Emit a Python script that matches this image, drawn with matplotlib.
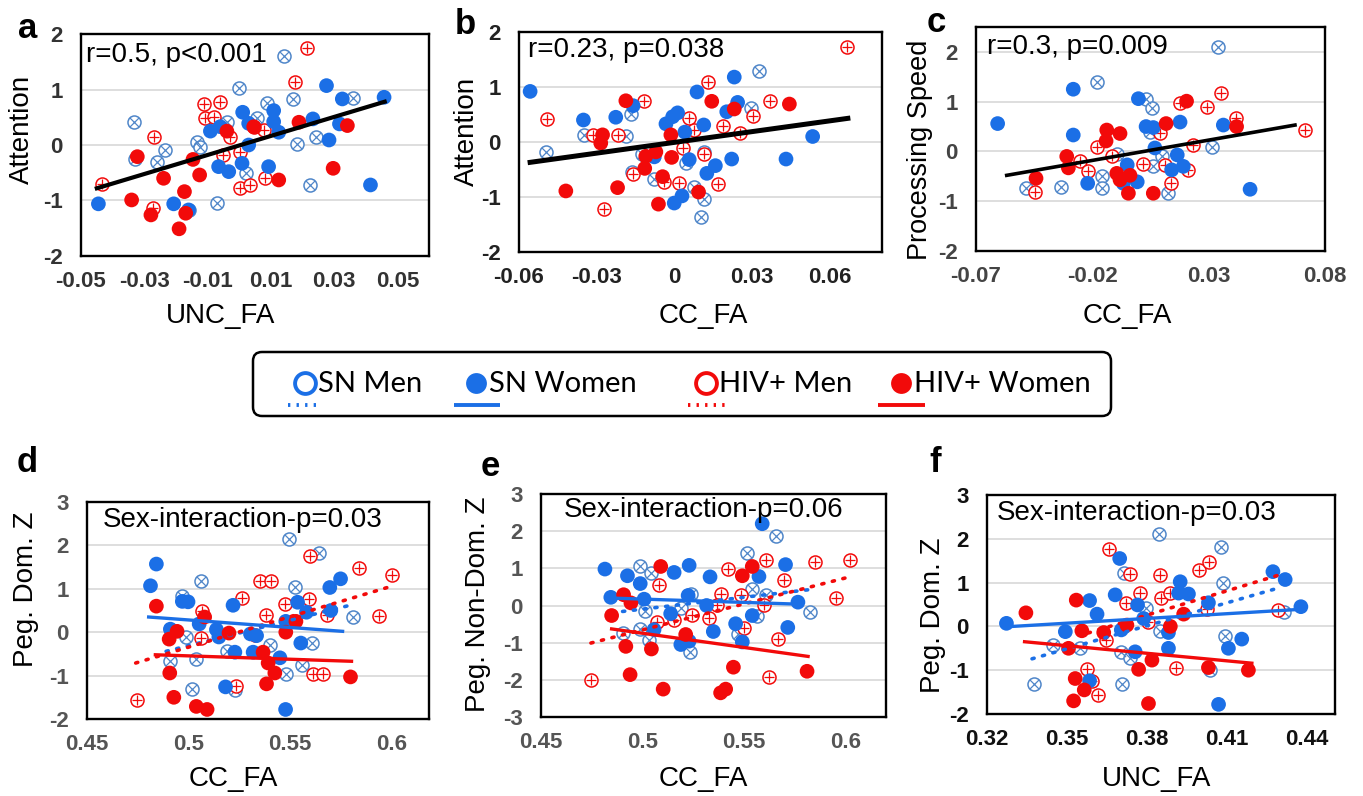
import matplotlib
matplotlib.use("Agg")
import matplotlib.pyplot as plt
from matplotlib.patches import FancyBboxPatch

# ---------------- data ----------------
# Panel a: UNC_FA vs Attention
a_sn_men = [(-0.0334,0.41),(0.0141,1.60),(0.0000,1.02),(0.0088,0.75),(0.0170,0.83),(0.0360,0.85),(-0.0039,0.42),
            (0.0056,0.48),(-0.0134,0.06),(-0.0123,-0.03),(-0.0234,-0.09),(-0.0260,-0.30),(0.0183,0.02),(0.0244,0.14),
            (0.0225,-0.72),(-0.0070,-1.05),(0.0020,-0.51),(-0.0160,-1.17),(-0.0330,-0.25)]
a_hiv_men = [(0.0215,1.75),(0.0176,1.13),(-0.0112,0.74),(-0.0060,0.78),(-0.0107,0.48),(-0.0080,0.50),(-0.0269,0.15),
             (-0.0028,0.15),(-0.0051,-0.18),(0.0004,-0.12),(-0.0435,-0.71),(-0.0271,-1.14),(0.0004,-0.78),(0.0035,-0.72),
             (0.0083,-0.60),(0.0078,0.27),(0.0046,0.33)]
a_sn_women = [(-0.0445,-1.06),(-0.0207,-1.06),(-0.0160,-1.17),(-0.0091,0.25),(-0.0060,0.33),(-0.0065,-0.39),(-0.0033,-0.48),
              (0.0009,-0.33),(0.0011,0.59),(0.0030,0.00),(0.0030,0.39),(0.0093,-0.39),(0.0109,0.62),(0.0109,0.42),
              (0.0125,0.23),(0.0233,0.47),(0.0276,1.07),(0.0284,0.09),(0.0326,0.83),(0.0317,0.38),(0.0415,-0.72),(0.0458,0.86)]
a_hiv_women = [(-0.0322,-0.21),(-0.0340,-0.99),(-0.0279,-1.26),(-0.0239,-0.60),(-0.0190,-1.51),(-0.0173,-0.84),(-0.0169,-1.23),
               (-0.0146,-0.26),(-0.0125,-0.54),(-0.0039,0.25),(0.0046,0.33),(0.0189,0.41),(0.0125,-0.63),(0.0297,-0.42),(0.0342,0.35)]
a_fit = ([-0.045, 0.046], [-0.78, 0.78])
a_xticks = [-0.05, -0.03, -0.01, 0.01, 0.03, 0.05]
a_xticklabels = ["-0.05", "-0.03", "-0.01", "0.01", "0.03", "0.05"]

# Panel b: CC_FA vs Attention
b_sn_men = [(-0.0497,-0.18),(-0.0348,0.13),(-0.0187,0.11),(-0.0168,0.51),(-0.0164,-0.54),(-0.0077,-0.67),(-0.0125,-0.22),
            (0.0045,-0.39),(0.0116,-0.18),(0.0114,-1.04),(0.0103,-1.37),(0.0077,-0.81),(0.0329,1.30),(0.0297,0.61)]
b_hiv_men = [(0.0668,1.73),(0.0129,1.10),(-0.0116,0.74),(-0.0490,0.42),(-0.0314,0.13),(-0.0219,0.13),(0.0058,0.43),
             (0.0077,0.22),(0.0190,0.29),(0.0306,0.47),(0.0372,0.75),(0.0255,0.17),(0.0032,-0.10),(0.0116,-0.22),
             (-0.0161,-0.58),(0.0019,-0.74),(-0.0041,-0.72),(0.0168,-0.77),(-0.0271,-1.21)]
b_sn_women = [(-0.0557,0.92),(-0.0351,0.40),(-0.0226,0.45),(-0.0159,0.66),(-0.0032,0.33),(-0.0006,0.46),(0.0013,0.53),
              (0.0041,0.18),(0.0058,-0.32),(0.0088,0.91),(0.0114,0.31),(0.0126,-0.57),(0.0159,-0.43),(0.0203,0.55),
              (0.0232,1.18),(0.0245,0.72),(0.0222,-0.31),(0.0432,-0.31),(0.0535,0.10),(0.0000,-1.11),(0.0030,-0.98),(-0.0077,-0.27)]
b_hiv_women = [(-0.0419,-0.89),(-0.0219,-0.83),(-0.0187,0.75),(-0.0277,0.13),(-0.0284,-0.02),(-0.0110,-0.26),(-0.0114,-0.48),
               (-0.0071,-0.18),(-0.0013,0.13),(-0.0010,-0.28),(-0.0045,-0.63),(-0.0061,-1.13),(0.0094,-0.91),(0.0145,0.74),
               (0.0232,0.60),(0.0445,0.69)]
b_fit = ([-0.0557, 0.0671], [-0.37, 0.43])
b_xticks = [-0.06, -0.03, 0.0, 0.03, 0.06]
b_xticklabels = ["-0.06", "-0.03", "0", "0.03", "0.06"]

# Panel c: CC_FA vs Processing Speed
c_sn_men = [(0.0342,2.10),(-0.0179,1.40),(0.0031,1.06),(0.0058,0.87),(0.0048,0.39),(0.0313,0.09),(-0.0160,-0.50),
            (-0.0157,-0.74),(-0.0335,-0.71),(-0.0485,-0.73),(0.0127,-0.83),(0.0062,-0.30),(0.0098,-0.10),(-0.0095,-0.06)]
c_hiv_men = [(-0.0446,-0.81),(-0.0253,-0.20),(-0.0217,-0.40),(-0.0181,0.09),(-0.0117,-0.10),(0.0016,-0.25),(0.0112,-0.27),
             (0.0137,-0.64),(0.0177,0.97),(0.0234,0.13),(0.0213,-0.37),(0.0291,0.89),(0.0353,1.18),(0.0417,0.67),
             (0.0714,0.43),(0.0091,0.38)]
c_sn_women = [(-0.0607,0.56),(-0.0282,1.25),(-0.0282,0.33),(-0.0220,-0.64),(-0.0002,1.06),(0.0031,0.50),(0.0062,0.48),
              (0.0069,0.07),(0.0177,0.59),(0.0165,-0.07),(0.0141,-0.37),(0.0191,-0.30),(-0.0050,-0.27),(-0.0007,-0.61),
              (-0.0067,-0.64),(0.0363,0.53),(0.0478,-0.76)]
c_hiv_women = [(-0.0442,-0.54),(-0.0310,-0.10),(-0.0303,-0.33),(-0.0138,0.43),(-0.0141,0.21),(-0.0081,0.36),(-0.0095,-0.44),
               (-0.0081,-0.57),(-0.0038,-0.48),(-0.0045,-0.84),(0.0062,-0.84),(0.0117,0.56),(0.0205,1.01),(0.0420,0.50)]
c_fit = ([-0.0568, 0.0671], [-0.48, 0.53])
c_xticks = [-0.07, -0.02, 0.03, 0.08]
c_xticklabels = ["-0.07", "-0.02", "0.03", "0.08"]

# Panel d: CC_FA vs Peg. Dom. Z
d_sn_men = [(0.5064,1.17),(0.4970,0.83),(0.4990,-0.10),(0.5039,-0.62),(0.4908,-0.67),(0.5020,-1.31),(0.5229,-1.34),
            (0.5188,-0.44),(0.5401,-0.29),(0.5497,2.15),(0.5645,1.82),(0.5525,1.03),(0.5607,-0.26),(0.5558,-0.75),
            (0.5480,-0.96),(0.5812,0.35)]
d_hiv_men = [(0.4747,-1.57),(0.5069,0.50),(0.5064,-0.13),(0.5266,0.79),(0.5352,1.19),(0.5409,1.17),(0.5380,0.40),
             (0.5475,0.65),(0.5599,1.76),(0.5595,0.76),(0.5684,0.39),(0.5612,-0.96),(0.5661,-0.96),(0.5842,1.48),
             (0.6005,1.31),(0.5941,0.37),(0.5237,-1.25),(0.5327,-0.06)]
d_sn_women = [(0.4842,1.57),(0.4813,1.07),(0.4970,0.71),(0.4998,0.70),(0.5220,0.62),(0.4911,0.07),(0.5053,0.19),
              (0.5138,0.06),(0.5150,-0.11),(0.5229,-0.46),(0.5306,-0.04),(0.5336,-0.08),(0.5319,-0.46),(0.5451,-0.59),
              (0.5479,-1.78),(0.5183,-1.26),(0.5538,0.69),(0.5554,-0.25),(0.5582,0.46),(0.5697,1.03),(0.5750,1.23),
              (0.5702,0.50),(0.5480,0.25)]
d_hiv_women = [(0.4842,0.60),(0.4905,-0.16),(0.4944,0.02),(0.4908,-0.94),(0.4928,-1.50),(0.5039,-1.71),(0.5092,-1.78),
               (0.5080,0.35),(0.5200,-0.02),(0.5368,-0.46),(0.5393,-0.71),(0.5426,-0.94),(0.5385,-1.19),(0.5480,0.00),
               (0.5530,0.25),(0.5799,-1.03)]
d_fit_sn_men = ([0.489, 0.5796], [-0.44, 0.62])
d_fit_sn_women = ([0.4804, 0.576], [0.35, 0.02])
d_fit_hiv_men = ([0.474, 0.6002], [-0.71, 1.06])
d_fit_hiv_women = ([0.4837, 0.5804], [-0.52, -0.67])
de_xticks = [0.45, 0.5, 0.55, 0.6]
de_xticklabels = ["0.45", "0.5", "0.55", "0.6"]

# Panel e: CC_FA vs Peg. Non-Dom. Z
e_sn_men = [(0.4987,1.07),(0.5041,0.87),(0.5011,-0.16),(0.4989,-0.63),(0.4902,-0.74),(0.5033,-0.92),(0.5234,-1.26),
            (0.5238,0.32),(0.5189,-0.07),(0.5513,1.41),(0.5656,1.86),(0.5541,0.45),(0.5611,0.29),(0.5566,-0.29),
            (0.5470,-0.78),(0.5825,-0.17)]
e_hiv_men = [(0.4746,-2.00),(0.5082,0.54),(0.5074,-0.45),(0.5156,-0.38),(0.5246,-0.25),(0.5328,-0.34),(0.5385,0.32),
             (0.5421,0.98),(0.5484,0.29),(0.5500,-0.61),(0.5607,1.23),(0.5598,0.02),(0.5697,0.68),(0.5669,-0.90),
             (0.5623,-1.92),(0.5852,1.16),(0.5956,0.20),(0.6025,1.23),(0.5369,0.02)]
e_sn_women = [(0.4815,0.98),(0.4926,0.80),(0.4989,0.59),(0.4844,0.22),(0.5008,0.17),(0.5156,0.89),(0.5230,1.08),
              (0.5139,-0.22),(0.5225,0.27),(0.5333,0.77),(0.5316,0.00),(0.5349,-0.70),(0.5459,-0.49),(0.5492,-0.98),
              (0.5541,-0.27),(0.5574,0.78),(0.5590,2.20),(0.5705,1.10),(0.5716,-0.59),(0.5766,0.09),(0.5189,-1.05),
              (0.5230,-0.96),(0.5057,-0.65)]
e_hiv_women = [(0.4907,0.29),(0.4943,0.07),(0.4848,-0.27),(0.4918,-1.10),(0.4939,-1.86),(0.5044,-1.17),(0.5090,1.05),
               (0.5102,-2.25),(0.5213,-0.78),(0.5385,-2.35),(0.5410,-2.25),(0.5448,-1.66),(0.5492,0.80),(0.5541,1.05),
               (0.5811,-1.77)]
e_fit_sn_men = ([0.4902, 0.5828], [-0.16, 0.43])
e_fit_sn_women = ([0.4844, 0.5746], [0.20, 0.04])
e_fit_hiv_men = ([0.4746, 0.6021], [-1.01, 0.77])
e_fit_hiv_women = ([0.4848, 0.5816], [-0.63, -1.37])

# Panel f: UNC_FA vs Peg. Dom. Z
f_sn_men = [(0.3844,2.11),(0.4079,1.81),(0.4084,1.00),(0.3713,1.21),(0.3798,0.41),(0.3850,-0.10),(0.4094,-0.22),
            (0.3375,-1.32),(0.3446,-0.42),(0.3550,-0.50),(0.3706,-1.32),(0.3704,-0.58),(0.3738,-0.73),(0.4313,0.34),
            (0.4038,-1.00)]
f_hiv_men = [(0.3656,1.76),(0.3735,1.20),(0.3723,0.53),(0.3775,0.77),(0.3850,1.17),(0.3853,0.64),(0.3888,0.77),
             (0.3994,1.29),(0.4035,1.48),(0.4025,0.39),(0.3806,0.09),(0.3575,-0.98),(0.3594,-1.24),(0.3615,-1.57),
             (0.3648,-0.31),(0.3910,-0.94),(0.4291,0.37)]
f_sn_women = [(0.3273,0.07),(0.3494,-0.12),(0.3585,0.59),(0.3613,0.28),(0.3698,1.55),(0.3681,0.72),(0.3704,-0.08),
              (0.3756,-0.58),(0.3765,0.49),(0.3788,0.18),(0.3881,-0.14),(0.3881,-0.50),(0.3925,1.02),(0.3956,0.74),
              (0.4031,0.54),(0.4106,-0.50),(0.4156,-0.29),(0.4069,-1.78),(0.3585,-1.24),(0.4273,1.25),(0.4319,1.07),
              (0.4378,0.45),(0.3919,0.76)]
f_hiv_women = [(0.3346,0.31),(0.3506,-0.50),(0.3535,0.60),(0.3531,-1.19),(0.3565,-1.45),(0.3525,-1.70),(0.3556,-0.10),
               (0.3638,-0.14),(0.3725,0.03),(0.3769,-0.98),(0.3819,-0.77),(0.3806,-1.76),(0.3888,0.00),(0.3938,0.28),
               (0.4031,-0.94),(0.4181,-1.00)]
f_fit_sn_men = ([0.3369, 0.4290], [-0.74, 0.87])
f_fit_sn_women = ([0.3269, 0.4378], [-0.01, 0.39])
f_fit_hiv_men = ([0.3580, 0.4294], [-0.15, 1.17])
f_fit_hiv_women = ([0.3341, 0.4194], [-0.35, -0.84])
f_xticks = [0.32, 0.35, 0.38, 0.41, 0.44]
f_xticklabels = ["0.32", "0.35", "0.38", "0.41", "0.44"]

legend_labels = ["SN Men", "SN Women", "HIV+ Men", "HIV+ Women"]

# ---------------- style ----------------
W, H, DPI = 1363, 796, 100
BLUE = "#1b6fe6"
BLUE_OPEN = "#4f86c9"
RED = "#f20a0a"
FONT = "Liberation Sans"
plt.rcParams["font.family"] = [FONT, "DejaVu Sans"]

fig = plt.figure(figsize=(W / DPI, H / DPI), dpi=DPI)
fig.patch.set_facecolor("white")


def px_axes(l, r, t, b):
    return fig.add_axes([l / W, 1 - b / H, (r - l) / W, (b - t) / H])


def draw_points(ax, sn_men, hiv_men, sn_women, hiv_women):
    for pts, col, inner in ((sn_men, BLUE_OPEN, "x"), (hiv_men, RED, "+")):
        xs = [p[0] for p in pts]
        ys = [p[1] for p in pts]
        ax.scatter(xs, ys, s=88, facecolors="white", edgecolors=col, linewidths=1.1, zorder=3)
        ax.scatter(xs, ys, s=44, marker=inner, c=col, linewidths=0.9, zorder=3)
    for pts, col in ((sn_women, BLUE), (hiv_women, RED)):
        xs = [p[0] for p in pts]
        ys = [p[1] for p in pts]
        ax.scatter(xs, ys, s=112, c=col, edgecolors="none", zorder=4)


def style_axes(ax, xlim, ylim, xticks, xticklabels, yticks, tick_color, tick_weight):
    ax.set_xlim(*xlim)
    ax.set_ylim(*ylim)
    ax.set_xticks(xticks)
    ax.set_xticklabels(xticklabels)
    ax.set_yticks(yticks)
    ax.set_yticklabels([str(v) for v in yticks])
    ax.tick_params(length=0, labelsize=16, colors=tick_color, pad=11)
    ax.tick_params(axis="y", pad=13)
    for lab in ax.get_xticklabels() + ax.get_yticklabels():
        lab.set_fontweight(tick_weight)
    ax.grid(axis="y", color="#d4d4d4", linewidth=1.1, zorder=0)
    ax.set_axisbelow(True)
    for s in ax.spines.values():
        s.set_color("black")
        s.set_linewidth(1.7)


def group_lines(ax, sn_men, sn_women, hiv_men, hiv_women):
    ax.plot(*sn_men, color=BLUE, lw=2.6, linestyle=(0, (0.6, 2.4)), dash_capstyle="round", zorder=5)
    ax.plot(*hiv_men, color=RED, lw=2.6, linestyle=(0, (0.6, 2.4)), dash_capstyle="round", zorder=5)
    ax.plot(*sn_women, color=BLUE, lw=2.4, zorder=5)
    ax.plot(*hiv_women, color=RED, lw=2.4, zorder=5)


# Panel a
ax_a = px_axes(81, 429, 34, 256)
draw_points(ax_a, a_sn_men, a_hiv_men, a_sn_women, a_hiv_women)
ax_a.plot(*a_fit, color="black", lw=3.0, zorder=5)
style_axes(ax_a, (-0.05, 0.06), (-2, 2), a_xticks, a_xticklabels, [-2, -1, 0, 1, 2], "#333333", "bold")

# Panel b
ax_b = px_axes(519, 882, 32, 252)
draw_points(ax_b, b_sn_men, b_hiv_men, b_sn_women, b_hiv_women)
ax_b.plot(*b_fit, color="black", lw=3.6, zorder=5)
style_axes(ax_b, (-0.06, 0.0803), (-2, 2), b_xticks, b_xticklabels, [-2, -1, 0, 1, 2], "#222222", "bold")

# Panel c
ax_c = px_axes(976, 1325, 27, 251)
draw_points(ax_c, c_sn_men, c_hiv_men, c_sn_women, c_hiv_women)
ax_c.plot(*c_fit, color="black", lw=2.6, zorder=5)
style_axes(ax_c, (-0.07, 0.08), (-2, 2.5), c_xticks, c_xticklabels, [-2, -1, 0, 1, 2], "#444444", "bold")

# Panel d
ax_d = px_axes(87, 429, 502, 719)
draw_points(ax_d, d_sn_men, d_hiv_men, d_sn_women, d_hiv_women)
group_lines(ax_d, d_fit_sn_men, d_fit_sn_women, d_fit_hiv_men, d_fit_hiv_women)
style_axes(ax_d, (0.45, 0.6186), (-2, 3), de_xticks, de_xticklabels, [-2, -1, 0, 1, 2, 3], "#555555", "bold")

# Panel e
ax_e = px_axes(541, 886, 494, 717)
draw_points(ax_e, e_sn_men, e_hiv_men, e_sn_women, e_hiv_women)
group_lines(ax_e, e_fit_sn_men, e_fit_sn_women, e_fit_hiv_men, e_fit_hiv_women)
style_axes(ax_e, (0.45, 0.62), (-3, 3), de_xticks, de_xticklabels, [-3, -2, -1, 0, 1, 2, 3], "#555555", "bold")

# Panel f
ax_f = px_axes(987, 1335, 495, 714)
draw_points(ax_f, f_sn_men, f_hiv_men, f_sn_women, f_hiv_women)
group_lines(ax_f, f_fit_sn_men, f_fit_sn_women, f_fit_hiv_men, f_fit_hiv_women)
style_axes(ax_f, (0.32, 0.4506), (-2, 3), f_xticks, f_xticklabels, [-2, -1, 0, 1, 2, 3], "#111111", "bold")

# ---------------- overlay (labels, letters, legend) ----------------
ov = fig.add_axes([0, 0, 1, 1])
ov.set_xlim(0, W)
ov.set_ylim(H, 0)
ov.axis("off")
ov.patch.set_alpha(0)

LAB = 20
for (x, y, t) in ((221, 316, "UNC_FA"), (703, 316, "CC_FA"), (1127, 316, "CC_FA"),
                  (233, 779, "CC_FA"), (703, 779, "CC_FA"), (1157, 779, "UNC_FA")):
    ov.text(x, y, t, fontsize=LAB, ha="center", va="center")
for (x, y, t, fs) in ((22, 129, "Attention", LAB), (467, 131, "Attention", LAB), (920, 150, "Processing Speed", 19.5),
                      (26, 589, "Peg. Dom. Z", LAB), (478, 604, "Peg. Non-Dom. Z", LAB), (933, 615, "Peg. Dom. Z", LAB)):
    ov.text(x, y, t, fontsize=fs, ha="center", va="center", rotation=90)
for (x, y, t) in ((28, 28, "a"), (465, 25, "b"), (936, 22, "c"), (27, 463, "d"), (490, 467, "e"), (935, 463, "f")):
    ov.text(x, y, t, fontsize=25, fontweight="bold", ha="center", va="center")
for (x, y, t) in ((86, 55, "r=0.5, p<0.001"), (528, 50, "r=0.23, p=0.038"), (987, 47, "r=0.3, p=0.009"),
                  (103, 520, "Sex-interaction-p=0.03"), (564, 510, "Sex-interaction-p=0.06"),
                  (997, 513, "Sex-interaction-p=0.03")):
    ov.text(x, y, t, fontsize=LAB, ha="left", va="center", zorder=6)

# legend box
box = FancyBboxPatch((253, 352), 858, 64, boxstyle="round,pad=0,rounding_size=9",
                     facecolor="white", edgecolor="black", linewidth=1.8)
ov.add_patch(box)
leg_items = [
    (305, BLUE, False, (0, (0.6, 1.6)), 288, 322),
    (476, BLUE, True, "-", 454, 500),
    (706, RED, False, (0, (0.6, 1.6)), 688, 725),
    (901, RED, True, "-", 878, 925),
]
for (mx, col, filled, ls, lx0, lx1), lab in zip(leg_items, legend_labels):
    ov.plot([mx], [383], marker="o", markersize=15, markerfacecolor=col if filled else "white",
            markeredgecolor=col, markeredgewidth=0 if filled else 2.8, linestyle="none")
    ov.plot([lx0, lx1], [405, 405], color=col, lw=2.8, linestyle=ls,
            dash_capstyle="butt", solid_capstyle="butt")
    ov.text(mx + 13, 384, lab, fontsize=21, family=["Lato", "DejaVu Sans"], ha="left", va="center")

fig.savefig("out.png", dpi=DPI)
